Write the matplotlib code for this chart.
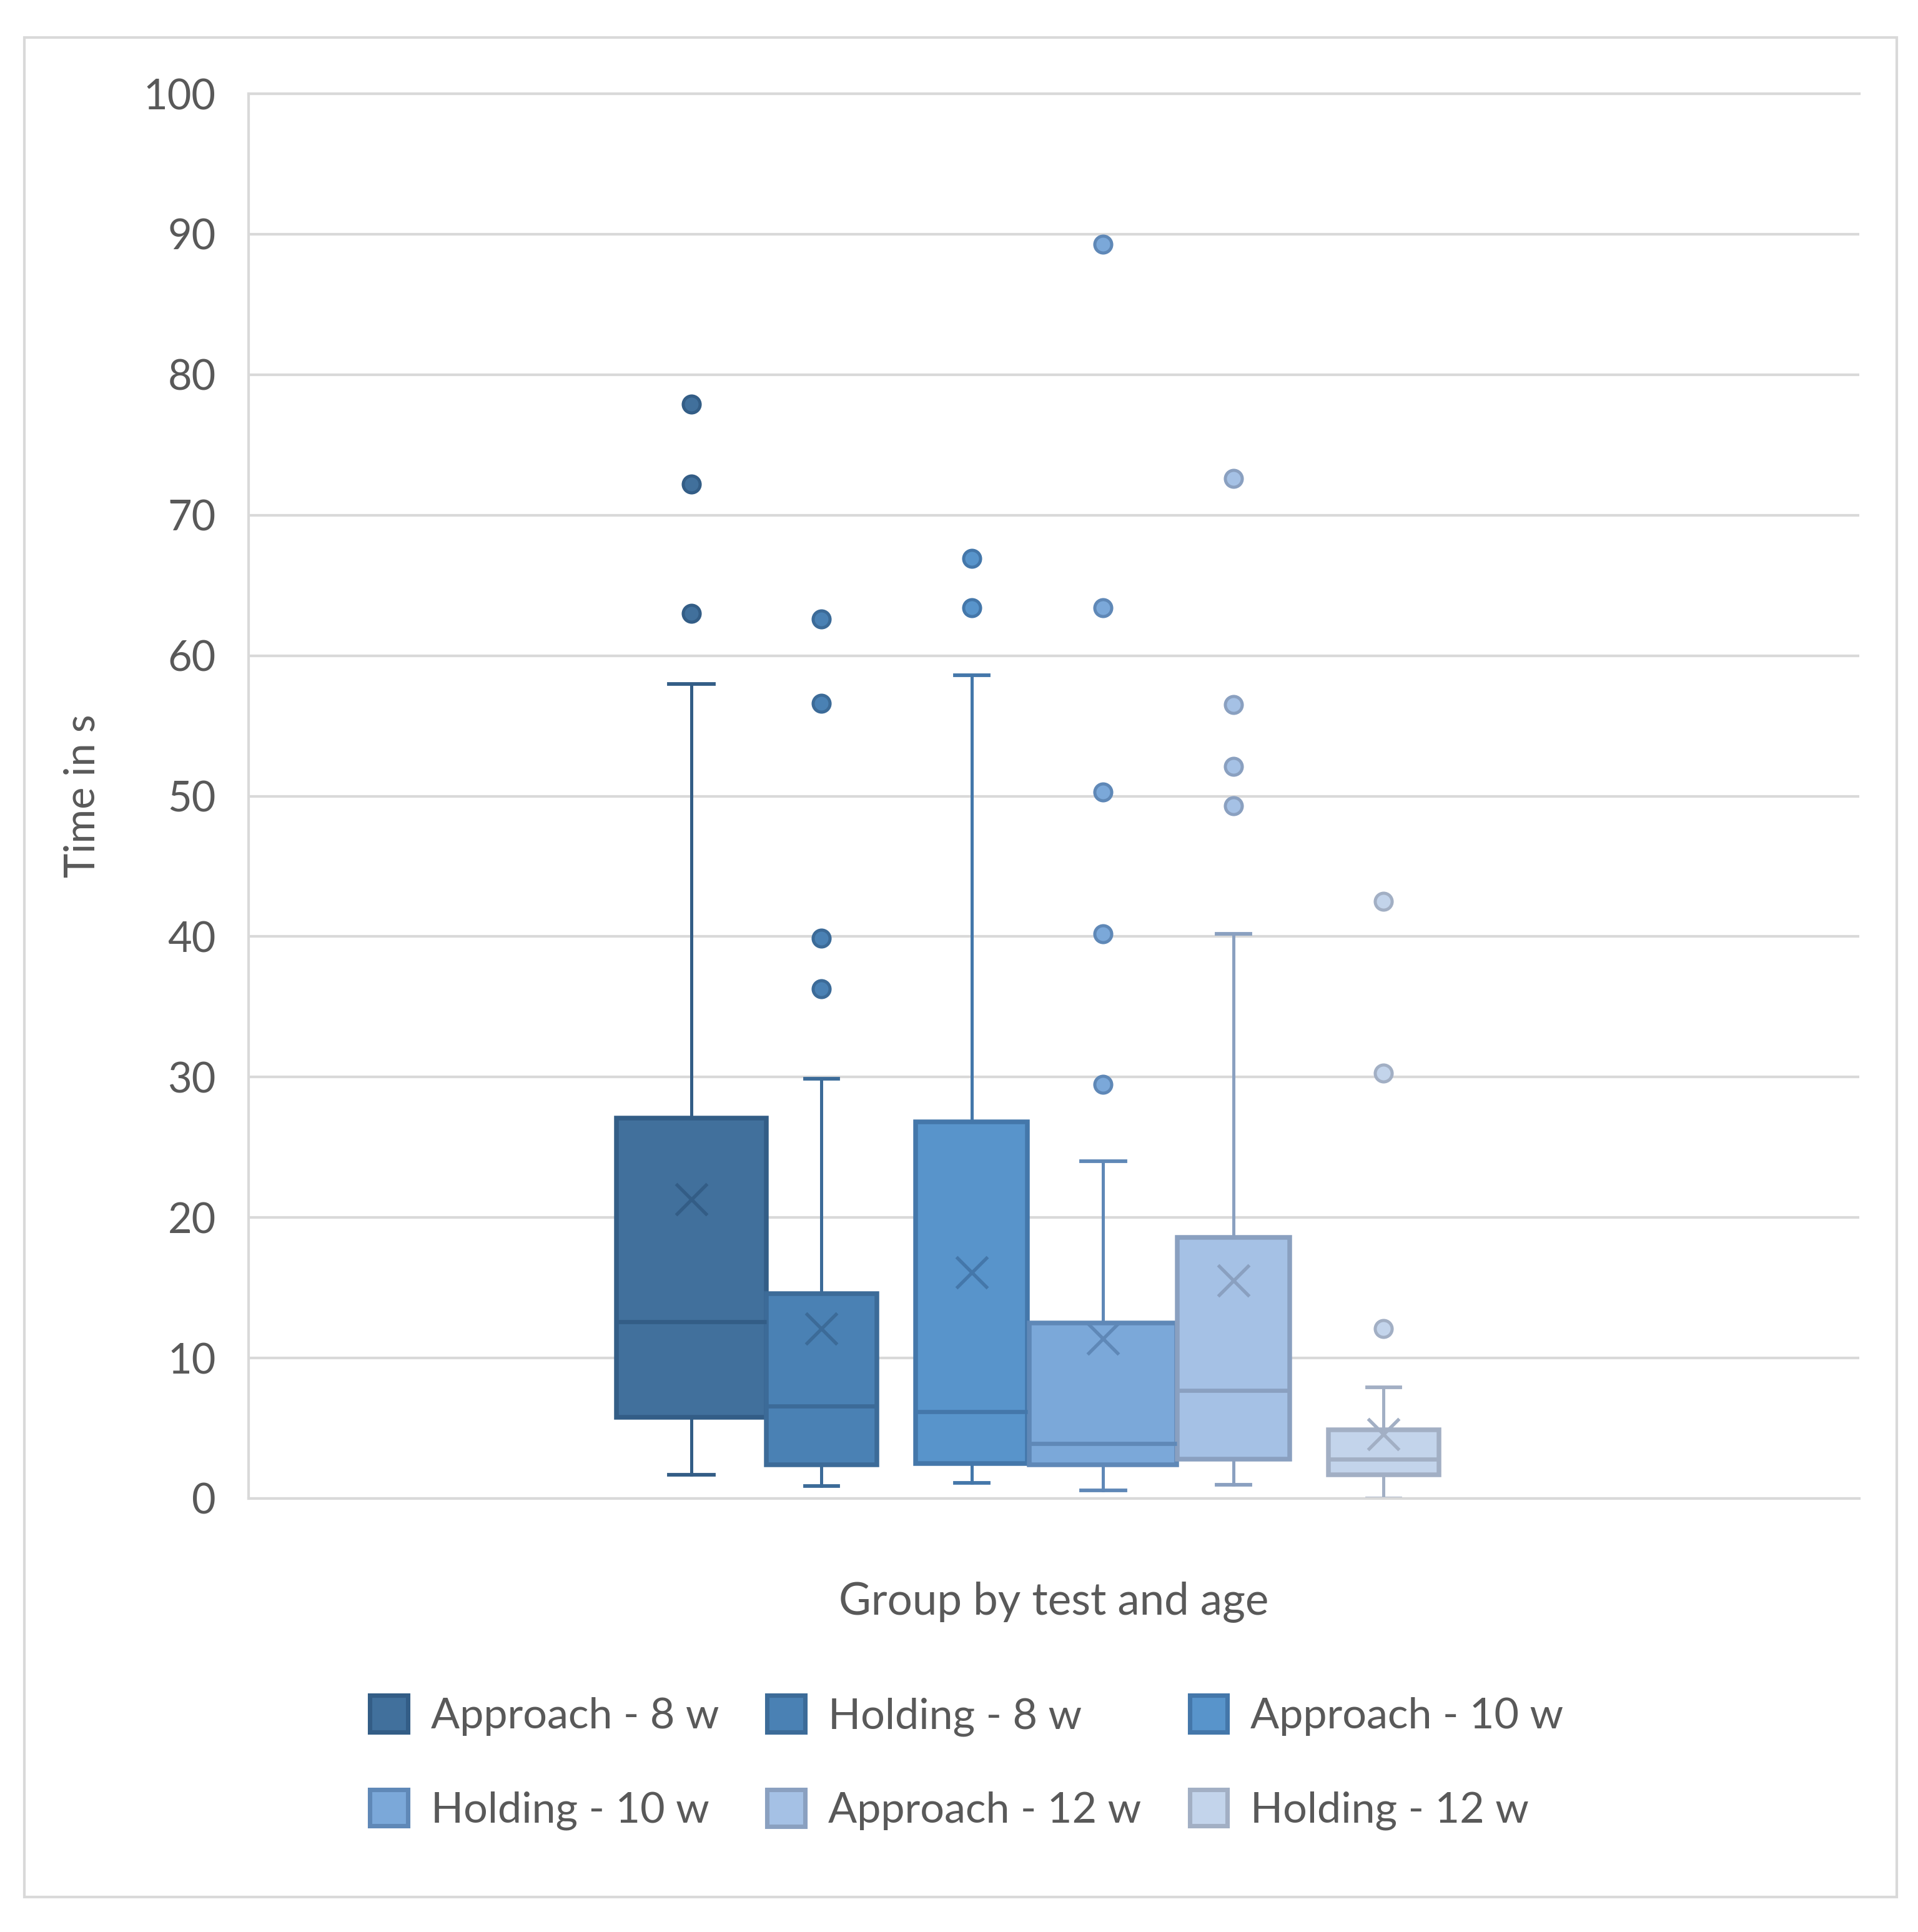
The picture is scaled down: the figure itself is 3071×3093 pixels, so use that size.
import matplotlib.pyplot as plt
from matplotlib.patches import Patch, Rectangle

plt.rcParams['font.family'] = ['Lato', 'DejaVu Sans']

# DATA (time in s)
labels = ['Approach - 8 w', 'Holding - 8 w', 'Approach - 10 w',
          'Holding - 10 w', 'Approach - 12 w', 'Holding - 12 w']
q1 = [5.8, 2.4, 2.5, 2.4, 2.8, 1.7]
med = [12.6, 6.6, 6.2, 3.9, 7.7, 2.8]
q3 = [27.1, 14.6, 26.8, 12.5, 18.6, 4.9]
whislo = [1.7, 0.9, 1.1, 0.6, 1.0, 0.0]
whishi = [58.0, 29.9, 58.6, 24.0, 40.2, 7.9]
means = [21.3, 12.1, 16.1, 11.4, 15.5, 4.6]
fliers = [
    [63.0, 72.2, 77.9],
    [36.3, 39.9, 56.6, 62.6],
    [63.4, 66.9],
    [29.5, 40.2, 50.3, 63.4, 89.3],
    [49.3, 52.1, 56.5, 72.6],
    [12.1, 30.3, 42.5],
]
yticks = [0, 10, 20, 30, 40, 50, 60, 70, 80, 90, 100]

# LAYOUT / STYLE
positions = [0.2748, 0.3557, 0.4489, 0.5305, 0.6115, 0.7046]
widths = [0.0931, 0.0687, 0.0695, 0.0916, 0.0695, 0.0687]
fills = ['#41709c', '#4a81b4', '#5894cb', '#7ba8d9', '#a5c1e5', '#c3d4eb']
edges = ['#335d86', '#3c6b98', '#4477aa', '#5f88b7', '#8aa0c0', '#a2afc4']
txt = '#595959'
grid = '#d9d9d9'

W, H = 3071, 3093
fig = plt.figure(figsize=(W / 300, H / 300), dpi=300)
ax = fig.add_axes([398 / W, 1 - 2399 / H, (2977 - 398) / W, (2399 - 150) / H])

for i in range(len(labels)):
    st = dict(label=labels[i], q1=q1[i], med=med[i], q3=q3[i],
              whislo=whislo[i], whishi=whishi[i], mean=means[i],
              fliers=fliers[i])
    ax.bxp([st], positions=[positions[i]], widths=[widths[i]],
           capwidths=[widths[i] * 0.3], patch_artist=True,
           showmeans=True, manage_ticks=False,
           boxprops=dict(facecolor=fills[i], edgecolor=edges[i], lw=1.8),
           medianprops=dict(color=edges[i], lw=1.6),
           whiskerprops=dict(color=edges[i], lw=1.2),
           capprops=dict(color=edges[i], lw=1.4),
           meanprops=dict(marker='x', markersize=12, markeredgewidth=1.3,
                          markeredgecolor=edges[i]),
           flierprops=dict(marker='o', markersize=6.5, markerfacecolor=fills[i],
                           markeredgecolor=edges[i], markeredgewidth=1.2))

ax.set_xlim(0, 1)
ax.set_ylim(0, 100)
ax.set_yticks(yticks)
ax.set_xticks([])
ax.set_axisbelow(True)
ax.yaxis.grid(True, color=grid, lw=1.0)
for s in ['top', 'bottom', 'left']:
    ax.spines[s].set_color(grid)
    ax.spines[s].set_linewidth(1.0)
ax.spines['right'].set_visible(False)
ax.tick_params(axis='y', length=0, pad=12.5, labelsize=16, labelcolor=txt)

ax.set_ylabel('Time in s', fontsize=16, color=txt, va='center')
ax.yaxis.set_label_coords((132 - 398) / (2977 - 398), 0.5)
ax.set_xlabel('Group by test and age', fontsize=17, color=txt, va='center')
ax.xaxis.set_label_coords(0.5, (2399 - 2565) / (2399 - 150))

# legend: excel fills rows first, matplotlib fills columns first
handles = [Patch(facecolor=fills[i], edgecolor=edges[i], lw=1.7, label=labels[i])
           for i in range(len(labels))]
order = [0, 3, 1, 4, 2, 5]
fig.legend([handles[i] for i in order], [labels[i] for i in order],
           ncol=3, loc='center', bbox_to_anchor=(0.504, 0.0876),
           frameon=False, fontsize=16.4, labelcolor=txt,
           handlelength=0.89, handleheight=0.95, handletextpad=0.54,
           columnspacing=1.13, labelspacing=1.25, borderpad=0)

# outer chart border
fig.patches.append(Rectangle((39 / W, 1 - 3037 / H), (3037 - 39) / W, (3037 - 60) / H,
                             transform=fig.transFigure, fill=False,
                             edgecolor=grid, lw=1.0))

fig.savefig('out.png', dpi=300, facecolor='white')
